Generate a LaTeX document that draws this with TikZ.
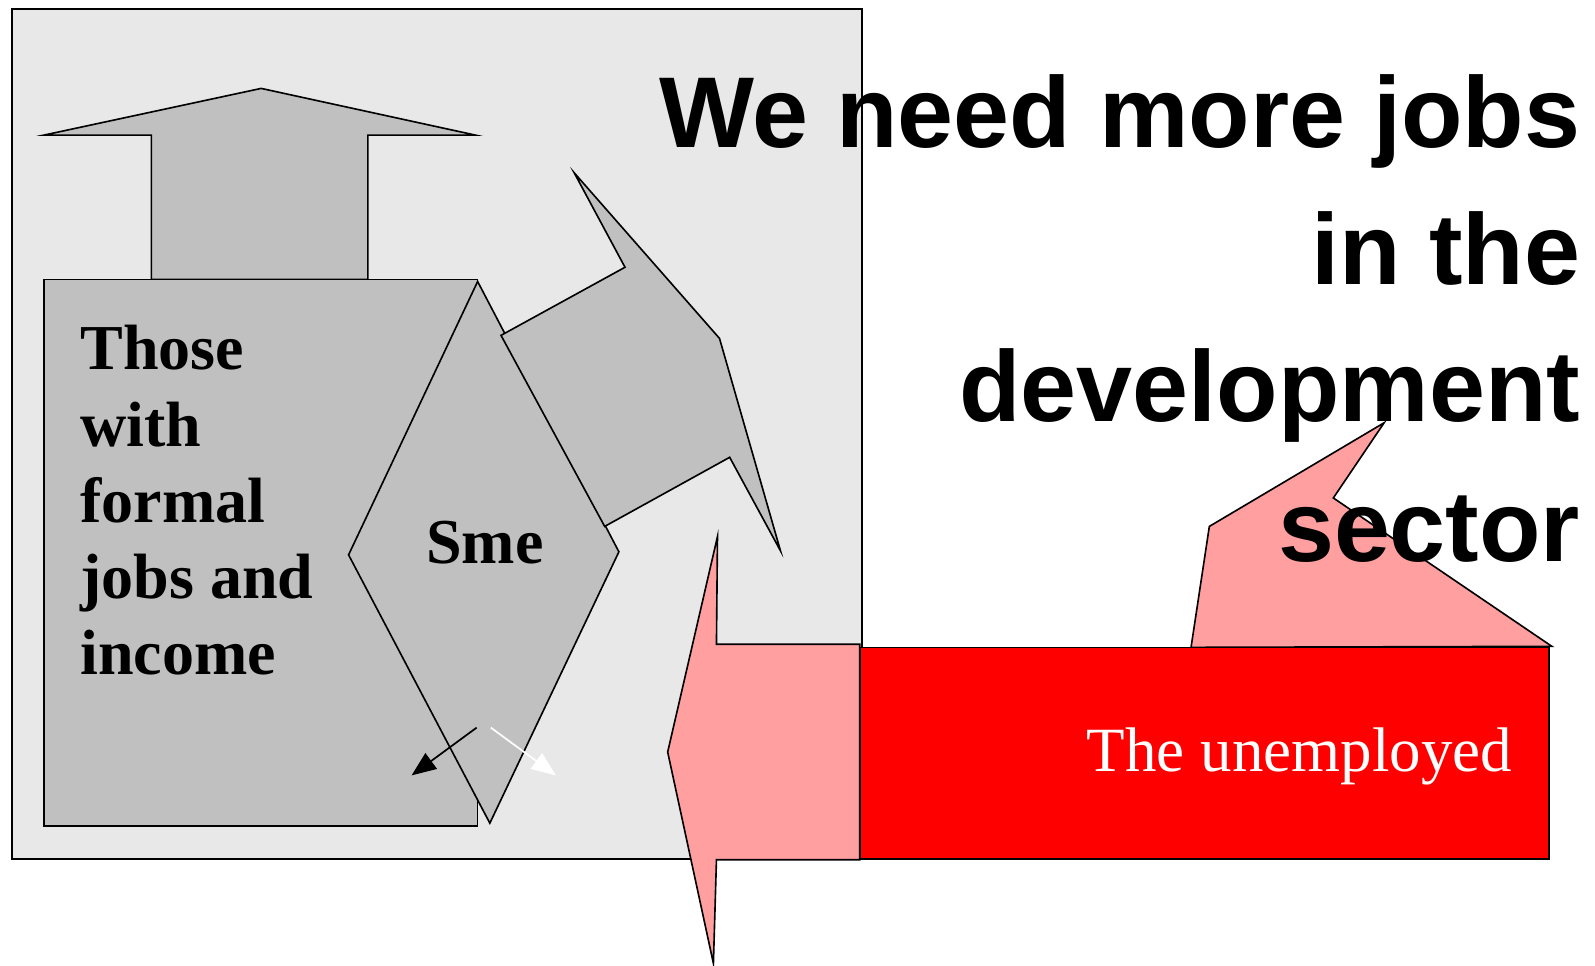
\documentclass[tikz,border=0pt]{standalone}
\usepackage{fontspec}
\setmainfont{Liberation Serif}
\newfontfamily\headfont{Liberation Sans}
\usetikzlibrary{arrows.meta}
\definecolor{bggray}{HTML}{E8E8E8}
\definecolor{shapegray}{HTML}{C0C0C0}
\definecolor{softpink}{HTML}{FF9F9F}
\definecolor{jobred}{HTML}{FF0000}

\begin{document}
\begin{tikzpicture}[
  x=1pt, y=-1pt,
  blockshape/.style={
    draw=black,
    line width=1.6pt,
    fill=#1
  },
  headline/.style={
    font=\headfont\bfseries\fontsize{99}{120}\selectfont,
    inner sep=0pt,
    anchor=base east
  },
  bodytext/.style={
    font=\bfseries\fontsize{63}{75}\selectfont,
    inner sep=0pt
  },
  smallarrow/.style={
    ->, >={Triangle[length=24pt,width=19pt]},
    line width=1.7pt, draw=#1
  }
]
  \useasboundingbox (0,0) rectangle (1569.5,949.6);

  % left panel
  \draw[blockshape=bggray] (12,9) rectangle (848,845);
  \draw[blockshape=shapegray] (43,133) -- (257,87) -- (468,133) -- (362,133)
    -- (362,275) -- (149,275) -- (149,133) -- cycle;
  \draw[blockshape=shapegray] (43,275) rectangle (470,813);
  \draw[blockshape=shapegray] (470,277) -- (609,543) -- (482,810) -- (343,546) -- cycle;
  \draw[blockshape=shapegray] (493,330) -- (615,263) -- (565,170) -- (708,333)
    -- (768,542) -- (718,450) -- (595,518) -- cycle;

  \coordinate (outL) at (469,716);
  \coordinate (outLend) at (405,763);
  \coordinate (outR) at (483,716);
  \coordinate (outRend) at (547,763);
  \draw[smallarrow=black] (outL) -- (outLend);
  \draw[smallarrow=white] (outR) -- (outRend);

  % unemployed
  \draw[blockshape=softpink] (1172,637) -- (1190,518) -- (1362,416) -- (1312,490)
    -- (1527,636) -- cycle;
  \draw[blockshape=jobred] (846,637) rectangle (1524,845);
  \draw[blockshape=softpink] (657,740) -- (706,528) -- (705,634) -- (846,634)
    -- (846,846) -- (705,846) -- (702,948) -- cycle;

  \node[bodytext, anchor=north west, align=left] (formal) at (79,320)
    {Those\\with\\formal\\jobs and\\income};
  \node[bodytext, anchor=base] (sme) at (477,554) {Sme};
  \node[font=\fontsize{62}{75}\selectfont, text=white, inner sep=0pt,
    anchor=base east] (jobless) at (1488,759) {The unemployed};

  \node[headline] (head1) at (1555,145) {We need more jobs};
  \node[headline] (head2) at (1555,280) {in the};
  \node[headline] (head3) at (1555,415) {development};
  \node[headline] (head4) at (1555,553) {sector};
\end{tikzpicture}
\end{document}
